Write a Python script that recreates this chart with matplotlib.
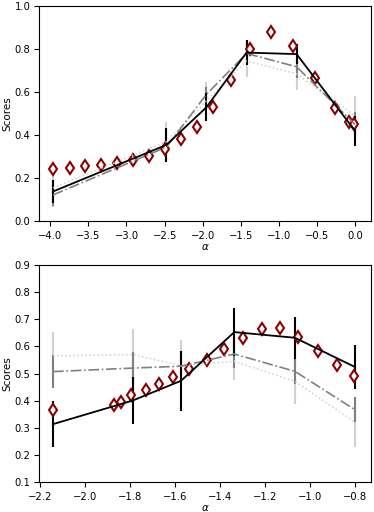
import matplotlib
matplotlib.use("Agg")
import matplotlib.pyplot as plt

# top panel
alpha_top = [-3.965, -2.475, -1.95, -1.424, -0.767, 0.0]
black_top = [0.138, 0.355, 0.53, 0.784, 0.777, 0.42]
black_top_err = [0.054, 0.08, 0.066, 0.058, 0.048, 0.07]
gray_top = [0.122, 0.345, 0.59, 0.78, 0.718, 0.45]
gray_top_err = [0.05, 0.06, 0.035, 0.05, 0.05, 0.06]
light_top = [0.155, 0.37, 0.56, 0.745, 0.685, 0.49]
light_top_err = [0.087, 0.09, 0.088, 0.073, 0.075, 0.09]
diam_top_x = [-3.965, -3.746, -3.54, -3.33, -3.124, -2.913, -2.707, -2.497, -2.29, -2.08,
              -1.862, -1.634, -1.38, -1.108, -0.819, -0.526, -0.263, -0.079, -0.009]
diam_top_y = [0.243, 0.246, 0.257, 0.262, 0.272, 0.283, 0.305, 0.336, 0.381, 0.44,
              0.532, 0.656, 0.803, 0.878, 0.816, 0.667, 0.525, 0.463, 0.452]

# bottom panel
alpha_bot = [-2.141, -1.788, -1.573, -1.336, -1.067, -0.8]
black_bot = [0.313, 0.40, 0.473, 0.653, 0.632, 0.524]
black_bot_err = [0.085, 0.087, 0.11, 0.088, 0.078, 0.082]
gray_bot = [0.507, 0.52, 0.527, 0.572, 0.508, 0.366]
gray_bot_err = [0.06, 0.06, 0.05, 0.05, 0.045, 0.046]
light_bot = [0.565, 0.57, 0.529, 0.545, 0.471, 0.32]
light_bot_err = [0.088, 0.096, 0.093, 0.07, 0.084, 0.09]
diam_bot_x = [-2.141, -1.871, -1.84, -1.793, -1.729, -1.671, -1.607, -1.538, -1.459,
              -1.38, -1.299, -1.215, -1.133, -1.052, -0.966, -0.881, -0.803]
diam_bot_y = [0.366, 0.382, 0.394, 0.419, 0.44, 0.462, 0.487, 0.518, 0.549,
              0.592, 0.63, 0.665, 0.669, 0.634, 0.582, 0.533, 0.49]

plt.rcParams['font.size'] = 7.5
plt.rcParams['xtick.labelsize'] = 7.2
plt.rcParams['ytick.labelsize'] = 7.2
plt.rcParams['ytick.major.pad'] = 2.5

fig = plt.figure(figsize=(3.74, 5.12), dpi=100)
ax1 = fig.add_axes([0.104, 0.568, 0.888, 0.420])
ax2 = fig.add_axes([0.104, 0.059, 0.888, 0.423])


def draw(ax, x, light, light_err, gray, gray_err, black, black_err, dx, dy):
    ax.errorbar(x, light, yerr=light_err, color="#d0d0d0", ls=":", lw=1.1,
                elinewidth=1.5, capsize=0)
    ax.errorbar(x, gray, yerr=gray_err, color="gray", ls="-.", lw=1.2,
                elinewidth=1.5, capsize=0)
    ax.errorbar(x, black, yerr=black_err, color="black", ls="-", lw=1.3,
                elinewidth=1.5, capsize=0)
    ax.plot(dx, dy, "d", ms=6, mfc="white", mec="darkred", mew=1.5, ls="none")
    ax.set_xlabel(r"$\alpha$", labelpad=1)
    ax.set_ylabel("Scores", labelpad=2)


draw(ax1, alpha_top, light_top, light_top_err, gray_top, gray_top_err,
     black_top, black_top_err, diam_top_x, diam_top_y)
ax1.set_ylim(0, 1.0)
ax1.set_xlim(-4.15, 0.21)
ax1.set_yticks([0.0, 0.2, 0.4, 0.6, 0.8, 1.0])

draw(ax2, alpha_bot, light_bot, light_bot_err, gray_bot, gray_bot_err,
     black_bot, black_bot_err, diam_bot_x, diam_bot_y)
ax2.set_ylim(0.1, 0.9)
ax2.set_xlim(-2.204, -0.729)
ax2.set_xticks([-2.2, -2.0, -1.8, -1.6, -1.4, -1.2, -1.0, -0.8])

fig.savefig("out.png", dpi=100)
